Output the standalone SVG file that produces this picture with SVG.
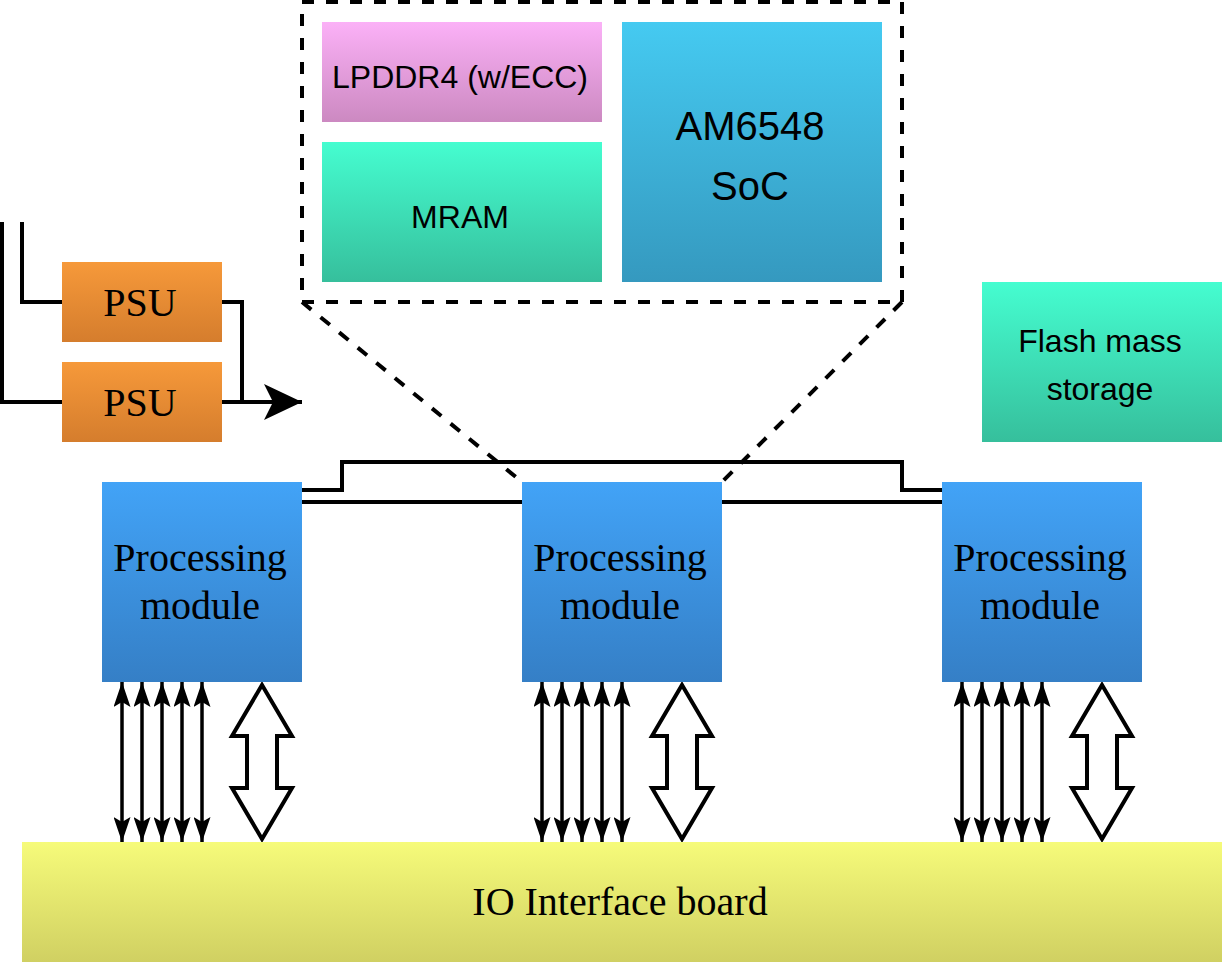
<svg xmlns="http://www.w3.org/2000/svg" width="1228" height="968" viewBox="0 0 1228 968">
<style>
.sans{font-family:"Liberation Sans",Arial,sans-serif;fill:#000;text-anchor:middle}
.serif{font-family:"Liberation Serif","Times New Roman",serif;fill:#000;text-anchor:middle}
.ln{fill:none;stroke:#000;stroke-width:4}
.thin{fill:none;stroke:#000;stroke-width:3.5}
.dash{fill:none;stroke:#000;stroke-width:4;stroke-dasharray:12 12}
</style>
<defs>
<linearGradient id="gOrange" x1="0" y1="0" x2="0" y2="1"><stop offset="0" stop-color="#f6993a"/><stop offset="1" stop-color="#d57d2d"/></linearGradient>
<linearGradient id="gBlue" x1="0" y1="0" x2="0" y2="1"><stop offset="0" stop-color="#42a3f7"/><stop offset="1" stop-color="#357fc6"/></linearGradient>
<linearGradient id="gPink" x1="0" y1="0" x2="0" y2="1"><stop offset="0" stop-color="#fbb1f7"/><stop offset="1" stop-color="#cc89c1"/></linearGradient>
<linearGradient id="gTeal" x1="0" y1="0" x2="0" y2="1"><stop offset="0" stop-color="#45fdd0"/><stop offset="1" stop-color="#36bf9c"/></linearGradient>
<linearGradient id="gCyan" x1="0" y1="0" x2="0" y2="1"><stop offset="0" stop-color="#45caf1"/><stop offset="1" stop-color="#3599bf"/></linearGradient>
<linearGradient id="gYellow" x1="0" y1="0" x2="0" y2="1"><stop offset="0" stop-color="#f6fb7a"/><stop offset="1" stop-color="#d0d062"/></linearGradient>
<marker id="ah" viewBox="0 0 25 17" refX="25" refY="8.5" markerWidth="25" markerHeight="17" markerUnits="userSpaceOnUse" orient="auto-start-reverse"><path d="M0,0 L25,8.5 L0,17 L5,8.5 Z" fill="#000"/></marker>
<marker id="ahBig" viewBox="0 0 38 36" refX="38" refY="18" markerWidth="38" markerHeight="36" markerUnits="userSpaceOnUse" orient="auto"><path d="M0,0 L38,18 L0,36 L9,18 Z" fill="#000"/></marker>
</defs>

<g id="connectors">
<polyline class="ln" points="22,222 22,302 62,302"/>
<polyline class="ln" points="2,222 2,402 62,402"/>
<polyline class="ln" points="222,302 242,302 242,402"/>
<line class="ln" x1="222" y1="402" x2="302" y2="402" marker-end="url(#ahBig)"/>
<line class="ln" x1="302" y1="502" x2="522" y2="502"/>
<line class="ln" x1="722" y1="502" x2="942" y2="502"/>
<polyline class="ln" points="302,490 342,490 342,462 902,462 902,490 942,490"/>
<line class="dash" x1="302" y1="302" x2="522" y2="482"/>
<line class="dash" x1="902" y1="302" x2="722" y2="482"/>
<g id="thin-arrows">
<line class="thin" x1="122" y1="682" x2="122" y2="842" marker-start="url(#ah)" marker-end="url(#ah)"/>
<line class="thin" x1="142" y1="682" x2="142" y2="842" marker-start="url(#ah)" marker-end="url(#ah)"/>
<line class="thin" x1="162" y1="682" x2="162" y2="842" marker-start="url(#ah)" marker-end="url(#ah)"/>
<line class="thin" x1="182" y1="682" x2="182" y2="842" marker-start="url(#ah)" marker-end="url(#ah)"/>
<line class="thin" x1="202" y1="682" x2="202" y2="842" marker-start="url(#ah)" marker-end="url(#ah)"/>
<line class="thin" x1="542" y1="682" x2="542" y2="842" marker-start="url(#ah)" marker-end="url(#ah)"/>
<line class="thin" x1="562" y1="682" x2="562" y2="842" marker-start="url(#ah)" marker-end="url(#ah)"/>
<line class="thin" x1="582" y1="682" x2="582" y2="842" marker-start="url(#ah)" marker-end="url(#ah)"/>
<line class="thin" x1="602" y1="682" x2="602" y2="842" marker-start="url(#ah)" marker-end="url(#ah)"/>
<line class="thin" x1="622" y1="682" x2="622" y2="842" marker-start="url(#ah)" marker-end="url(#ah)"/>
<line class="thin" x1="962" y1="682" x2="962" y2="842" marker-start="url(#ah)" marker-end="url(#ah)"/>
<line class="thin" x1="982" y1="682" x2="982" y2="842" marker-start="url(#ah)" marker-end="url(#ah)"/>
<line class="thin" x1="1002" y1="682" x2="1002" y2="842" marker-start="url(#ah)" marker-end="url(#ah)"/>
<line class="thin" x1="1022" y1="682" x2="1022" y2="842" marker-start="url(#ah)" marker-end="url(#ah)"/>
<line class="thin" x1="1042" y1="682" x2="1042" y2="842" marker-start="url(#ah)" marker-end="url(#ah)"/>
</g>
<g id="block-arrows" fill="#fff" stroke="#000" stroke-width="4" stroke-linejoin="miter">
<polygon points="262,685 292,736 277,736 277,788 292,788 262,839 232,788 247,788 247,736 232,736"/>
<polygon points="682,685 712,736 697,736 697,788 712,788 682,839 652,788 667,788 667,736 652,736"/>
<polygon points="1102,685 1132,736 1117,736 1117,788 1132,788 1102,839 1072,788 1087,788 1087,736 1072,736"/>
</g>
</g>

<g id="soc-group"><rect class="dash" x="302" y="2" width="600" height="300"/></g>

<g id="lpddr4"><rect x="322" y="22" width="280" height="100" fill="url(#gPink)"/><text class="sans" x="460" y="88" font-size="32">LPDDR4 (w/ECC)</text></g>
<g id="mram"><rect x="322" y="142" width="280" height="140" fill="url(#gTeal)"/><text class="sans" x="460" y="228" font-size="32">MRAM</text></g>
<g id="soc"><rect x="622" y="22" width="260" height="260" fill="url(#gCyan)"/><text class="sans" x="750" y="140" font-size="40">AM6548</text><text class="sans" x="750" y="200" font-size="40">SoC</text></g>

<g id="flash"><rect x="982" y="282" width="240" height="160" fill="url(#gTeal)"/><text class="sans" x="1100" y="352" font-size="32">Flash mass</text><text class="sans" x="1100" y="400" font-size="32">storage</text></g>

<g id="psu1"><rect x="62" y="262" width="160" height="80" fill="url(#gOrange)"/><text class="serif" x="140" y="316" font-size="40">PSU</text></g>
<g id="psu2"><rect x="62" y="362" width="160" height="80" fill="url(#gOrange)"/><text class="serif" x="140" y="416" font-size="40">PSU</text></g>

<g id="pm1"><rect x="102" y="482" width="200" height="200" fill="url(#gBlue)"/><text class="serif" x="200" y="571" font-size="40">Processing</text><text class="serif" x="200" y="619" font-size="40">module</text></g>
<g id="pm2"><rect x="522" y="482" width="200" height="200" fill="url(#gBlue)"/><text class="serif" x="620" y="571" font-size="40">Processing</text><text class="serif" x="620" y="619" font-size="40">module</text></g>
<g id="pm3"><rect x="942" y="482" width="200" height="200" fill="url(#gBlue)"/><text class="serif" x="1040" y="571" font-size="40">Processing</text><text class="serif" x="1040" y="619" font-size="40">module</text></g>

<g id="io"><rect x="22" y="842" width="1200" height="120" fill="url(#gYellow)"/><text class="serif" x="620" y="915" font-size="40">IO Interface board</text></g>
</svg>
